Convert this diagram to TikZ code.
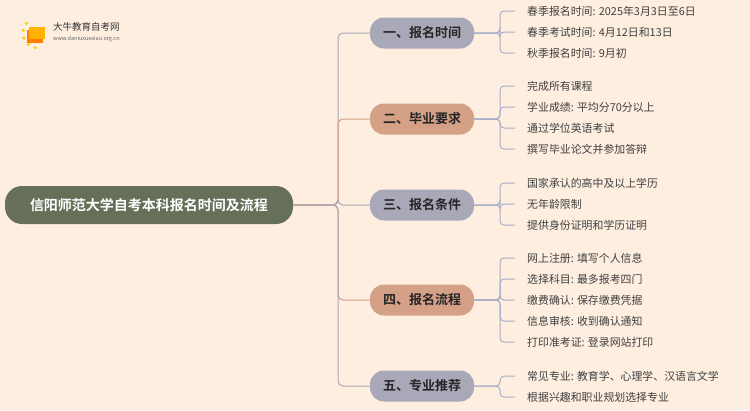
\documentclass[tikz,border=0pt]{standalone}
\usepackage{fontspec}
\setmainfont{Noto Sans CJK SC}[BoldFont={Noto Sans CJK SC Bold}]
\begin{document}
\begin{tikzpicture}[x=1pt,y=-1pt,
  trunk/.style={line width=1pt,rounded corners=5pt},
  leafline/.style={draw=leafc,line width=1pt,rounded corners=4pt},
  br/.style={rounded corners=14pt,minimum width=104pt,minimum height=31pt,font=\bfseries\fontsize{13}{13}\selectfont,text=black!85},
  leaf/.style={anchor=west,font=\fontsize{10.9}{11}\selectfont,text=black!75,inner sep=0pt}]
\definecolor{bg}{HTML}{FDEEE0}
\definecolor{grayb}{HTML}{A9A8B8}
\definecolor{salm}{HTML}{D4A086}
\definecolor{leafc}{HTML}{A9AEC8}
\definecolor{cen}{HTML}{667058}
\fill[bg] (0,0) rectangle (750,410);
\useasboundingbox (0,0) rectangle (750,410);
% logo
\foreach \a in {100,130,160,190,220} \fill[yellow!70!orange] (38,33)++(\a:15) circle (1.8);
\fill[orange] (27,30) rectangle (43,43);
\fill[orange!60!yellow] (29,27) rectangle (45,39);
\node[anchor=west,inner sep=0pt,font=\fontsize{9.5}{10}\selectfont,text=black!80] (lg1) at (53,27) {大牛教育自考网};
\node[anchor=west,inner sep=0pt,font=\fontsize{5.5}{6}\selectfont,text=black!60] (lg2) at (53,39) {www.daniuxuexiao.org.cn};
% central
\node[fill=cen,rounded corners=17pt,minimum width=288pt,minimum height=38pt,text=white,font=\bfseries\fontsize{14}{14}\selectfont] (c) at (149,205) {信阳师范大学自考本科报名时间及流程};
\coordinate (t) at (338,205);
\def\brs{1/33/一、报名时间/grayb,2/119/二、毕业要求/salm,3/205/三、报名条件/grayb,4/300/四、报名流程/salm,5/386/五、专业推荐/grayb}
\foreach \i/\y/\txt/\col in \brs {
  \node[br,fill=\col] (b\i) at (422,\y) {\txt};
  \draw[trunk,draw=\col] (c.east) -- (t) |- (b\i.west);
}
% leaves
\def\lv#1#2#3{\foreach \ly/\lt [count=\k] in {#3} {
    \node[leaf] (l#1\k) at (527,\ly) {\lt};
    \draw[leafline] (b#1.east) -- (500,#2) |- (515,\ly);}}
\lv{1}{33}{11/春季报名时间: 2025年3月3日至6日,32/春季考试时间: 4月12日和13日,53/秋季报名时间: 9月初}
\lv{2}{119}{86/完成所有课程,107/学业成绩: 平均分70分以上,128/通过学位英语考试,149/撰写毕业论文并参加答辩}
\lv{3}{205}{183/国家承认的高中及以上学历,204/无年龄限制,225/提供身份证明和学历证明}
\lv{4}{300}{258/网上注册: 填写个人信息,279/选择科目: 最多报考四门,300/缴费确认: 保存缴费凭据,321/信息审核: 收到确认通知,342/打印准考证: 登录网站打印}
\lv{5}{386}{376/常见专业: 教育学、心理学、汉语言文学,397/根据兴趣和职业规划选择专业}
\end{tikzpicture}
\end{document}
